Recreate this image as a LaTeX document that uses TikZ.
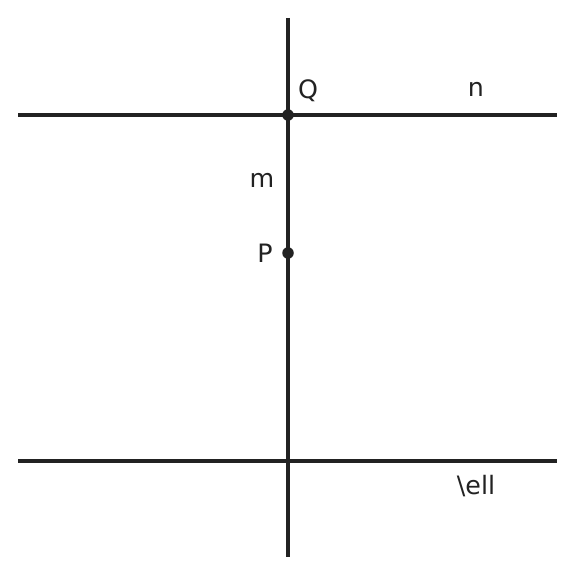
\documentclass[tikz,border=0pt]{standalone}
\usepackage{fontspec}
\setmainfont{DejaVu Sans}
\definecolor{ink}{HTML}{222222}
\tikzset{
	lineth/.style={line width=1.1pt, color=ink},
	ptdot/.style={circle, fill=ink, inner sep=0pt, minimum size=0.115cm},
	lbl/.style={text=ink, font=\fontsize{7.2}{8}\selectfont, inner sep=0pt}
}

\begin{document}
\begin{tikzpicture}[x=0.01cm, y=-0.01cm]
			%%%%% START %%%%%
			
			\useasboundingbox (0, 0) rectangle (576, 576);
			
			\coordinate (nW) at (18, 115);
			\coordinate (nE) at (557, 115);
			\coordinate (lW) at (18, 461);
			\coordinate (lE) at (557, 461);
			\coordinate (mN) at (288, 18);
			\coordinate (mS) at (288, 557);
			
			\draw[lineth] (nW) -- (nE);
			\draw[lineth] (lW) -- (lE);
			\draw[lineth] (mN) -- (mS);
			
			\node[ptdot] (Q) at (288, 115) {};
			\node[ptdot] (P) at (288, 253) {};
			
			\node[lbl] (labQ) at (308, 91) {Q};
			\node[lbl] (labP) at (265, 253) {P};
			\node[lbl] (labm) at (262, 180) {m};
			\node[lbl] (labn) at (476, 89) {n};
			\node[lbl] (labl) at (476, 486) {\textbackslash ell};
			
			%%%%% END %%%%%
		\end{tikzpicture}
\end{document}
